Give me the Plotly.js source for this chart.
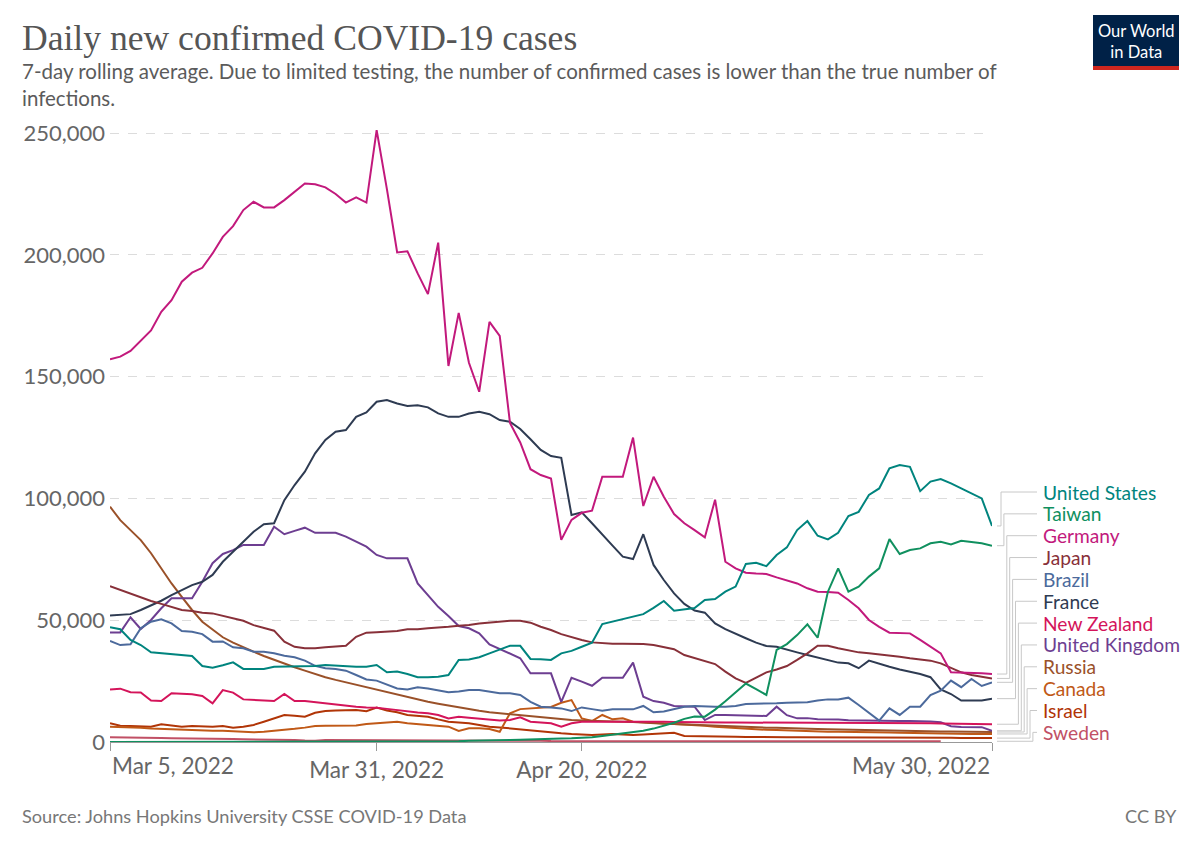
<!DOCTYPE html>
<html>
<head>
<meta charset="utf-8">
<script src="https://cdn.plot.ly/plotly-3.0.1.min.js"></script>
<style>
    html, body { margin: 0; padding: 0; background: #fff; }
    #chart { width: 1200px; height: 847px; }
</style>
</head>
<body>
<div id="chart"></div>
<script>
// Daily new confirmed cases, 7-day rolling average, in thousands.
// One value per day, starting on Mar 5, 2022 and ending on May 30, 2022.
var startDate = "2022-03-05";

var unitedStates = [47.1, 46.3, 41.9, 39.8, 36.8, 36.4, 36.1, 35.4, 35.3, 31.2,
    30.5, 31.5, 32.7, 30, 30, 30, 30.9, 31, 30.9, 30.9,
    31.2, 31.6, 31.3, 30.9, 30.9, 30.9, 31.6, 28.6, 28.9, 27.9,
    26.6, 26.6, 26.8, 27.5, 33.7, 33.9, 34.8, 36.4, 37.8, 39.5,
    39.5, 34.1, 34, 33.7, 36.4, 37.4, 39.1, 40.8, 48.4, 49.4,
    50.5, 51.7, 52.5, 55.1, 57.9, 53.9, 54.5, 55, 58.3, 58.7,
    61.7, 63.8, 73.1, 73.6, 72.2, 76.8, 79.9, 87, 90.7, 84.7,
    83.2, 85.9, 92.8, 94.5, 101.4, 104.1, 112.4, 113.7, 113, 103,
    106.9, 108, 106.2, 104.1, 102.1, 100, 88.7];

var taiwan = [0.03, 0.03, 0.03, 0.03, 0.03, 0.03, 0.03, 0.03, 0.03, 0.03,
    0.05, 0.05, 0.05, 0.05, 0.05, 0.05, 0.05, 0.05, 0.05, 0.05,
    0.1, 0.1, 0.1, 0.1, 0.1, 0.1, 0.1, 0.1, 0.2, 0.2,
    0.2, 0.2, 0.3, 0.3, 0.3, 0.5, 0.5, 0.5, 0.7, 0.8,
    0.9, 1.1, 1.2, 1.3, 1.4, 1.5, 1.6, 2, 2.5, 3,
    3.6, 4.1, 4.6, 5.5, 6.7, 7.9, 9.5, 10.5, 10.4, 13.3,
    16.7, 20.4, 24, 21.7, 19.3, 37.8, 40.2, 43.9, 48.3, 42.8,
    61.7, 71.3, 61.7, 63.8, 67.9, 71.3, 83.3, 77.2, 78.8, 79.5,
    81.6, 82.2, 81.1, 82.6, 82.2, 81.6, 80.6];

var germany = [157.1, 158.2, 160.6, 165, 169, 176.6, 181.4, 189, 192.7, 194.7,
    200.6, 207.4, 211.8, 218.4, 221.8, 219.5, 219.5, 222.5, 225.9, 229.3,
    229, 227.7, 225, 221.5, 223.6, 221.5, 251.2, 227, 201, 201.5,
    192.4, 183.9, 205, 154.4, 176.2, 155.7, 143.8, 172.5, 166.7, 131,
    123, 112, 109.6, 108.2, 83, 91.2, 94.1, 95, 108.9, 108.9,
    108.9, 125, 96.9, 108.9, 100.7, 93.6, 89.8, 87, 84, 99.5,
    74, 71.3, 69.5, 69.2, 69, 67.6, 66.2, 65.1, 63.1, 61.7,
    61.6, 61.3, 58.3, 54.9, 50.1, 47.3, 44.9, 44.6, 44.6, 41.9,
    39.1, 36.4, 28.6, 28.5, 28.5, 28.2, 27.9];

var japan = [64, 62.4, 60.8, 59.2, 57.9, 56.7, 55.5, 54.2, 53.8, 53.1,
    52.8, 51.9, 50.8, 49.8, 48, 46.7, 45.7, 41.2, 39.1, 38.5,
    38.5, 38.9, 39.1, 39.5, 43.2, 44.9, 45.1, 45.3, 45.6, 46.3,
    46.3, 46.7, 46.9, 47.3, 47.7, 48, 48.7, 49.1, 49.7, 49.8,
    49.8, 49, 47.3, 46, 44.3, 43, 41.9, 40.9, 40.5, 40.3,
    40.3, 40.3, 40.2, 39.8, 39.1, 38.1, 35.7, 34.4, 33.4, 32,
    28.9, 26.1, 24.3, 26.6, 28.6, 29.8, 31.2, 33.7, 36.4, 39.5,
    39.5, 38.5, 37.5, 36.8, 36.4, 36, 35.4, 35, 34.4, 34,
    33.4, 32.3, 30.3, 28.6, 27.5, 26.9, 26.1];

var brazil = [41.5, 39.8, 40.1, 46.7, 49.4, 50.4, 48.7, 45.6, 45.3, 44.3,
    41.2, 41.3, 38.9, 38.5, 37.1, 37.1, 36.4, 35.4, 34.8, 33.4,
    31.3, 30.3, 30, 29.3, 27.5, 25.7, 25.2, 23.7, 22, 21.6,
    22.5, 22, 21.3, 20.4, 20.7, 21.3, 21.3, 20.7, 20, 20,
    19.3, 16.5, 14.5, 14.2, 13.8, 12.7, 14.2, 13.5, 12.8, 13.4,
    13.4, 13.4, 14.8, 12.2, 12.5, 13.5, 14.5, 14.8, 14.5, 14.5,
    14.5, 14.8, 15.6, 15.6, 15.6, 15.9, 16.1, 16.1, 16.3, 17,
    17.5, 17.5, 18.2, 15.2, 12, 8.8, 13.8, 11.1, 14.5, 14.5,
    19.3, 21.1, 25.2, 22.5, 25.9, 23, 24.5];

var france = [51.9, 52.2, 52.5, 54.2, 56, 58, 60.3, 62.4, 64.4, 65.8,
    68.6, 74, 78.1, 82.2, 86.3, 89.4, 89.8, 99.3, 105.5, 111,
    118.5, 124, 127.4, 128.1, 133.5, 135.3, 139.7, 140.4, 139, 138,
    138.3, 137.4, 134.9, 133.5, 133.5, 134.9, 135.6, 134.6, 132.2, 131.5,
    128.5, 124.3, 119.9, 117.4, 116.7, 93.2, 94.3, 89.8, 85, 80.6,
    76.1, 75.1, 85.3, 72.7, 66.5, 61, 56.7, 54, 53.1, 48.7,
    46.3, 44.3, 42.6, 40.8, 39.4, 39.1, 38.1, 36.8, 35.7, 34.6,
    33.7, 32.6, 32.3, 30.3, 33.4, 32, 30.9, 29.8, 28.9, 27.9,
    26.6, 21.6, 19.7, 17, 17, 17, 17.8];

var newZealand = [21.6, 21.9, 20.4, 20.3, 17, 16.8, 20, 19.8, 19.6, 18.9,
    15.9, 21.3, 20.3, 17.5, 17.2, 17, 16.8, 19.7, 16.8, 16.8,
    16.3, 16, 15.5, 15, 14.5, 14.2, 14.1, 13.6, 13.1, 12.4,
    12.1, 11.8, 11.1, 9.7, 10.4, 10, 9.6, 9.3, 8.8, 9,
    10.1, 8.3, 8, 7.7, 6.3, 7.7, 8.3, 8.3, 8.6, 8.6,
    8.6, 8.6, 8.6, 8.5, 8.3, 8.2, 8.1, 8.1, 8.1, 8.1,
    8, 8, 8, 7.9, 7.9, 7.9, 7.9, 7.9, 7.9, 7.9,
    7.9, 8, 8, 8, 8, 7.9, 7.9, 7.9, 7.8, 7.8,
    7.7, 7.6, 7.5, 7.4, 7.4, 7.3, 7.3];

var unitedKingdom = [45, 45, 51.2, 46.4, 50.1, 54.9, 59, 59, 59, 65.8,
    73.4, 77.2, 78.8, 80.9, 80.9, 80.9, 88.4, 85.3, 86.7, 88,
    85.9, 85.9, 85.9, 84.3, 82.2, 80.2, 76.8, 75.4, 75.4, 75.4,
    65.1, 60.3, 55.5, 51.7, 47.6, 46.7, 44.6, 40.1, 38.1, 36.4,
    34.4, 28.2, 28.2, 28.2, 16.5, 26.4, 24.8, 23.1, 26.4, 26.4,
    26.4, 32.6, 18.6, 16.8, 16.1, 14.8, 14.8, 14.5, 9, 11.1,
    11.1, 11, 10.8, 10.7, 10.7, 14.5, 11, 9.7, 9.8, 9.3,
    9.3, 9.2, 8.9, 8.8, 8.8, 8.7, 8.6, 8.6, 8.6, 8.6,
    8.4, 8.1, 6.5, 6.2, 6.1, 6.1, 4.6];

var russia = [96.6, 91.1, 87, 82.9, 77.5, 71.3, 65.1, 59.6, 54.2, 49.4,
    46, 43, 40.8, 39.1, 37.1, 35.3, 33.7, 32.3, 30.7, 29.3,
    27.9, 26.6, 25.5, 24.5, 23.4, 22.5, 21.3, 20.4, 19.6, 18.3,
    17.4, 16.5, 15.7, 14.9, 14.1, 13.4, 12.8, 12.2, 11.8, 11.4,
    10.9, 10.4, 10, 9.7, 9.3, 9, 8.8, 8.6, 8.5, 8.4,
    8.3, 8.2, 7.9, 7.7, 7.5, 7.4, 7.2, 7, 6.9, 6.7,
    6.5, 6.3, 6.2, 6, 5.9, 5.8, 5.6, 5.5, 5.4, 5.3,
    5.2, 5.1, 5, 5, 4.9, 4.8, 4.7, 4.6, 4.5, 4.5,
    4.4, 4.3, 4.3, 4.2, 4.2, 4.1, 4.1];

var canada = [6.3, 6.2, 6, 5.8, 5.5, 5.3, 5.1, 4.9, 4.7, 4.5,
    4.6, 4.6, 4.4, 4, 4, 4.2, 4.5, 4.9, 5.4, 5.9,
    6.6, 6.7, 6.8, 6.8, 6.8, 7.4, 7.7, 8.1, 8.3, 7.7,
    7.4, 7, 6.7, 6.3, 4.5, 5.6, 5.6, 5.3, 4.2, 11.8,
    13.5, 13.8, 13.8, 14.4, 16.1, 17.2, 9.7, 8.6, 11.1, 9.3,
    9.7, 8.3, 8.1, 7.9, 7.6, 7.4, 7.1, 7, 6.7, 6.3,
    6, 5.8, 5.5, 5.2, 5, 4.9, 4.7, 4.6, 4.5, 4.3,
    4.2, 4.2, 4.2, 4.2, 4.1, 4, 3.9, 3.8, 3.7, 3.6,
    3.5, 3.5, 3.4, 3.4, 3.3, 3.3, 3.3];

var israel = [7.7, 6.7, 6.6, 6.3, 6.3, 7.3, 6.7, 6.3, 6.6, 6.3,
    6.3, 6.6, 5.9, 6.3, 7, 8.3, 9.7, 11.1, 10.8, 10.4,
    12, 12.7, 12.9, 12.9, 13.1, 12.6, 14.1, 12.9, 12.2, 11.1,
    10.8, 10.4, 9.3, 8.3, 8, 7.7, 7, 6.3, 6, 5.6,
    5, 4.5, 4.1, 3.8, 3.6, 3.3, 3.1, 2.9, 3.1, 3.3,
    3.1, 2.9, 3.1, 3.3, 3.7, 3.8, 2.5, 2.5, 2.4, 2.3,
    2.3, 2.2, 2.1, 2, 1.9, 1.9, 1.9, 2, 2, 1.9,
    1.9, 1.9, 1.9, 1.9, 1.8, 1.8, 1.8, 1.8, 1.8, 1.7,
    1.7, 1.7, 1.7, 1.6, 1.6, 1.6, 1.6];

// Sweden stops reporting a few days before the end of the period
var sweden = [1.9, 1.9, 1.9, 1.8, 1.7, 1.6, 1.5, 1.5, 1.4, 1.3,
    1.3, 1.2, 1.2, 1.1, 1.1, 1.1, 1, 0.9, 0.8, 0.6,
    0.5, 0.8, 0.8, 0.8, 0.7, 0.7, 0.7, 0.7, 0.6, 0.6,
    0.6, 0.6, 0.6, 0.6, 0.5, 0.5, 0.5, 0.5, 0.5, 0.5,
    0.5, 0.5, 0.5, 0.4, 0.4, 0.4, 0.4, 0.4, 0.4, 0.4,
    0.4, 0.4, 0.4, 0.4, 0.4, 0.4, 0.4, 0.4, 0.4, 0.4,
    0.3, 0.3, 0.3, 0.3, 0.3, 0.3, 0.3, 0.3, 0.3, 0.3,
    0.3, 0.3, 0.3, 0.3, 0.3, 0.3, 0.3, 0.3, 0.3, 0.3,
    0.3, 0.3, null, null, null, null, null];

// Axis ticks
var yTickValues = [0, 50, 100, 150, 200, 250];
var yTickLabels = ["0", "50,000", "100,000", "150,000", "200,000", "250,000"];
var xTickDates = ["2022-03-05", "2022-03-31", "2022-04-20", "2022-05-30"];
var xTickLabels = ["Mar 5, 2022", "Mar 31, 2022", "Apr 20, 2022", "May 30, 2022"];

// Series in the order of the labels on the right
var series = [
    { name: "United States", values: unitedStates, color: "#00847e" },
    { name: "Taiwan", values: taiwan, color: "#10905f" },
    { name: "Germany", values: germany, color: "#c2197c" },
    { name: "Japan", values: japan, color: "#883039" },
    { name: "Brazil", values: brazil, color: "#4c6a9c" },
    { name: "France", values: france, color: "#2e3b52" },
    { name: "New Zealand", values: newZealand, color: "#d4145a" },
    { name: "United Kingdom", values: unitedKingdom, color: "#6d3e91" },
    { name: "Russia", values: russia, color: "#9a5129" },
    { name: "Canada", values: canada, color: "#c05917" },
    { name: "Israel", values: israel, color: "#b13507" },
    { name: "Sweden", values: sweden, color: "#c15065" }
];

// Build the list of dates
function buildDates(start, count) {
    var dates = [];
    var d = new Date(start + "T00:00:00Z");
    for (var i = 0; i < count; i++) {
        dates.push(d.toISOString().slice(0, 10));
        d.setUTCDate(d.getUTCDate() + 1);
    }
    return dates;
}
var dates = buildDates(startDate, unitedStates.length);

// Page geometry, in pixels
var W = 1200, H = 847;
var margin = { l: 110, r: 208, t: 118, b: 105 };
var plotW = W - margin.l - margin.r;
var plotH = H - margin.t - margin.b;
var yMax = 256.2;

function px(x) { return (x - margin.l) / plotW; }
function py(y) { return (H - margin.b - y) / plotH; }

var labelTop = 492;     // centre of the first label
var labelStep = 21.85;  // distance between labels
var sans = "Lato, sans-serif";

// Draw the lines (drawn bottom to top so the big ones sit on top)
var traces = series.slice().reverse().map(function (s) {
    return {
        type: "scatter",
        mode: "lines",
        name: s.name,
        x: dates,
        y: s.values,
        line: { color: s.color, width: 2 },
        connectgaps: false,
        hoverinfo: "skip"
    };
});

var annotations = [];
var shapes = [];

// Labels and their connectors
series.forEach(function (s, i) {
    var labelY = labelTop + i * labelStep;
    var last = null;
    for (var k = s.values.length - 1; k >= 0; k--) {
        if (s.values[k] !== null) { last = s.values[k]; break; }
    }
    var endY = last / yMax;
    var bendX = px(1001 + i * 2.9);

    shapes.push({
        type: "path",
        xref: "paper", yref: "paper",
        path: "M " + px(997) + "," + endY +
              " L " + bendX + "," + endY +
              " L " + bendX + "," + py(labelY) +
              " L " + px(1037) + "," + py(labelY),
        line: { color: "#c8c8c8", width: 1 }
    });

    annotations.push({
        xref: "paper", yref: "paper",
        x: px(1041), y: py(labelY),
        xanchor: "left", yanchor: "middle",
        text: s.name,
        showarrow: false,
        font: { family: sans, size: 19.2, color: s.color }
    });
});

// First and last date labels sit inside the axis ends
annotations.push({
    xref: "x", yref: "paper",
    x: xTickDates[0], y: py(765),
    xanchor: "left", yanchor: "middle",
    text: xTickLabels[0], showarrow: false,
    font: { family: sans, size: 22.6, color: "#666" }
});
annotations.push({
    xref: "x", yref: "paper",
    x: xTickDates[3], y: py(765),
    xanchor: "right", yanchor: "middle",
    text: xTickLabels[3], showarrow: false,
    font: { family: sans, size: 22.6, color: "#666" }
});

// Title, subtitle and footer
annotations.push({
    xref: "paper", yref: "paper",
    x: px(20), y: py(38),
    xanchor: "left", yanchor: "middle",
    text: "Daily new confirmed COVID-19 cases",
    showarrow: false,
    font: { family: "Liberation Serif, serif", size: 35.6, color: "#555" }
});
annotations.push({
    xref: "paper", yref: "paper",
    x: px(20), y: py(85),
    xanchor: "left", yanchor: "middle", align: "left",
    text: "7-day rolling average. Due to limited testing, the number of confirmed cases is lower than the true number of<br>infections.",
    showarrow: false,
    font: { family: sans, size: 20.5, color: "#5b5b5b" }
});
annotations.push({
    xref: "paper", yref: "paper",
    x: px(20), y: py(816),
    xanchor: "left", yanchor: "middle",
    text: "Source: Johns Hopkins University CSSE COVID-19 Data",
    showarrow: false,
    font: { family: sans, size: 18.2, color: "#777" }
});
annotations.push({
    xref: "paper", yref: "paper",
    x: px(1179), y: py(816),
    xanchor: "right", yanchor: "middle",
    text: "CC BY",
    showarrow: false,
    font: { family: sans, size: 18.2, color: "#777" }
});

// Our World in Data logo
shapes.push({
    type: "rect", xref: "paper", yref: "paper",
    x0: px(1093), x1: px(1179), y0: py(66), y1: py(15),
    fillcolor: "#002147", line: { width: 0 }
});
shapes.push({
    type: "rect", xref: "paper", yref: "paper",
    x0: px(1093), x1: px(1179), y0: py(70), y1: py(66),
    fillcolor: "#ce261e", line: { width: 0 }
});
annotations.push({
    xref: "paper", yref: "paper",
    x: px(1136), y: py(41),
    xanchor: "center", yanchor: "middle", align: "center",
    text: "Our World<br>in Data", showarrow: false,
    font: { family: sans, size: 16.5, color: "#fff" }
});

var layout = {
    width: W,
    height: H,
    margin: margin,
    paper_bgcolor: "#fff",
    plot_bgcolor: "#fff",
    showlegend: false,
    font: { family: sans, color: "#666" },
    xaxis: {
        type: "date",
        range: [xTickDates[0], xTickDates[3]],
        tickmode: "array",
        tickvals: xTickDates,
        ticktext: ["", xTickLabels[1], xTickLabels[2], ""],
        ticks: "outside",
        ticklen: 8,
        tickcolor: "#999",
        showline: true,
        linecolor: "#999",
        linewidth: 1,
        showgrid: false,
        zeroline: false,
        tickfont: { family: sans, size: 22.6, color: "#666" }
    },
    yaxis: {
        range: [0, yMax],
        tickmode: "array",
        tickvals: yTickValues,
        ticktext: yTickLabels,
        showgrid: true,
        gridcolor: "#dcdcdc",
        griddash: "dash",
        gridwidth: 1,
        zeroline: false,
        showline: false,
        ticks: "",
        ticklabelstandoff: 4,
        tickfont: { family: sans, size: 22, color: "#666" }
    },
    annotations: annotations,
    shapes: shapes
};

Plotly.newPlot("chart", traces, layout, { displayModeBar: false, staticPlot: true });
</script>
</body>
</html>
